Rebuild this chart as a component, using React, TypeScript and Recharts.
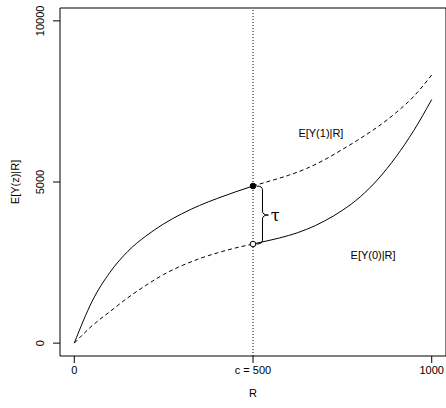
import React from 'react';
import { LineChart, Line, XAxis, YAxis, ReferenceLine, ReferenceDot, ReferenceArea } from 'recharts';

const R_VALUES = [0, 50, 100, 150, 200, 250, 300, 350, 400, 450, 500, 550, 600, 650, 700, 750, 800, 850, 900, 950, 1000];
const Y1_VALUES = [0, 1300, 2200, 2850, 3320, 3700, 4010, 4270, 4490, 4690, 4876, 5040, 5210, 5420, 5690, 6010, 6350, 6720, 7150, 7660, 8320];
const Y0_VALUES = [0, 540, 980, 1410, 1790, 2130, 2400, 2620, 2800, 2950, 3075, 3200, 3340, 3530, 3790, 4120, 4540, 5090, 5780, 6600, 7560];
const CUTOFF = 500;
const X_TICKS = [0, 500, 1000];
const X_TICK_LABELS = ['0', 'c = 500', '1000'];
const Y_TICKS = [0, 5000, 10000];
const Y_TICK_LABELS = ['0', '5000', '10000'];
const X_LABEL = 'R';
const Y_LABEL = 'E[Y(z)|R]';
const Y1_LABEL = 'E[Y(1)|R]';
const Y0_LABEL = 'E[Y(0)|R]';
const TAU_LABEL = 'τ';

const FONT = '"Liberation Sans", Arial, Helvetica, sans-serif';

const data = R_VALUES.map((r, i) => ({
  r,
  y1Solid: r <= CUTOFF ? Y1_VALUES[i] : null,
  y1Dash: r >= CUTOFF ? Y1_VALUES[i] : null,
  y0Dash: r <= CUTOFF ? Y0_VALUES[i] : null,
  y0Solid: r >= CUTOFF ? Y0_VALUES[i] : null,
}));

const cutIdx = R_VALUES.indexOf(CUTOFF);
const y1AtCut = Y1_VALUES[cutIdx];
const y0AtCut = Y0_VALUES[cutIdx];

const YTick = (props: any) => {
  const { x, y, payload } = props;
  const idx = Y_TICKS.indexOf(payload.value);
  return (
    <text
      x={x}
      y={y}
      transform={`rotate(-90, ${x}, ${y})`}
      textAnchor="middle"
      fontFamily={FONT}
      fontSize={11}
      fill="#000"
    >
      {idx >= 0 ? Y_TICK_LABELS[idx] : payload.value}
    </text>
  );
};

const Brace = (props: any) => {
  const { x, y, width, height } = props;
  const w = width;
  const xb = x + w * 0.5;
  const ym = y + height / 2;
  const r = 4;
  const d = `M ${x} ${y} Q ${xb} ${y} ${xb} ${y + r} L ${xb} ${ym - r} Q ${xb} ${ym} ${x + w} ${ym} Q ${xb} ${ym} ${xb} ${ym + r} L ${xb} ${y + height - r} Q ${xb} ${y + height} ${x} ${y + height}`;
  return <path d={d} fill="none" stroke="#000" strokeWidth={1} />;
};

const textShape = (txt: string, size: number, family: string) => (p: any) => (
  <text
    x={p.cx}
    y={p.cy}
    textAnchor="middle"
    dominantBaseline="central"
    fontFamily={family}
    fontSize={size}
    fill="#000"
  >
    {txt}
  </text>
);

export default function App() {
  return (
    <div style={{ position: 'absolute', left: 0, top: 0, background: '#fff' }}>
      <LineChart
        width={446}
        height={408}
        data={data}
        margin={{ top: 8, right: 0, bottom: 0, left: 0 }}
      >
        <XAxis
          dataKey="r"
          type="number"
          domain={[-40, 1040]}
          ticks={X_TICKS}
          tickFormatter={(v: number) => X_TICK_LABELS[X_TICKS.indexOf(v)]}
          axisLine={false}
          tickLine={{ stroke: '#000' }}
          tickSize={7}
          tickMargin={3}
          height={52}
          tick={{ fill: '#000', fontFamily: FONT, fontSize: 11 }}
          interval={0}
          label={{ value: X_LABEL, position: 'insideBottom', offset: 11, fill: '#000', fontFamily: FONT, fontSize: 11 }}
        />
        <YAxis
          type="number"
          domain={[-400, 10400]}
          ticks={Y_TICKS}
          axisLine={false}
          tickLine={{ stroke: '#000' }}
          tickSize={7}
          tickMargin={9}
          width={60}
          interval={0}
          tick={<YTick />}
          label={{
            content: (p: any) => {
              const vb = p.viewBox || { x: 0, y: 8, width: 60, height: 348 };
              const cx = vb.x + 19;
              const cy = vb.y + vb.height / 2;
              return (
                <text
                  x={cx}
                  y={cy}
                  transform={`rotate(-90, ${cx}, ${cy})`}
                  textAnchor="middle"
                  fontFamily={FONT}
                  fontSize={11}
                  fill="#000"
                >
                  {Y_LABEL}
                </text>
              );
            },
          }}
        />
        <ReferenceArea
          x1={-40}
          x2={1040}
          y1={-400}
          y2={10400}
          fill="none"
          fillOpacity={0}
          stroke="#000"
          strokeWidth={1}
          ifOverflow="visible"
        />
        <ReferenceLine x={CUTOFF} stroke="#000" strokeWidth={1} strokeDasharray="1 2" />
        <Line dataKey="y1Solid" type="monotone" stroke="#000" strokeWidth={1} dot={false} isAnimationActive={false} connectNulls={false} />
        <Line dataKey="y1Dash" type="monotone" stroke="#000" strokeWidth={1} strokeDasharray="4 3" dot={false} isAnimationActive={false} connectNulls={false} />
        <Line dataKey="y0Dash" type="monotone" stroke="#000" strokeWidth={1} strokeDasharray="4 3" dot={false} isAnimationActive={false} connectNulls={false} />
        <Line dataKey="y0Solid" type="monotone" stroke="#000" strokeWidth={1} dot={false} isAnimationActive={false} connectNulls={false} />
        <ReferenceArea
          x1={510}
          x2={543}
          y1={y0AtCut}
          y2={y1AtCut}
          ifOverflow="visible"
          shape={<Brace />}
        />
        <ReferenceDot x={CUTOFF} y={y1AtCut} r={2.8} fill="#000" stroke="#000" strokeWidth={1} ifOverflow="visible" />
        <ReferenceDot x={CUTOFF} y={y0AtCut} r={2.8} fill="#fff" stroke="#000" strokeWidth={1} ifOverflow="visible" />
        <ReferenceDot x={562} y={(y0AtCut + y1AtCut) / 2} r={1} ifOverflow="visible" shape={textShape(TAU_LABEL, 16, '"DejaVu Serif", serif')} />
        <ReferenceDot x={690} y={6520} r={1} ifOverflow="visible" shape={textShape(Y1_LABEL, 11, FONT)} />
        <ReferenceDot x={836} y={2733} r={1} ifOverflow="visible" shape={textShape(Y0_LABEL, 11, FONT)} />
      </LineChart>
    </div>
  );
}
